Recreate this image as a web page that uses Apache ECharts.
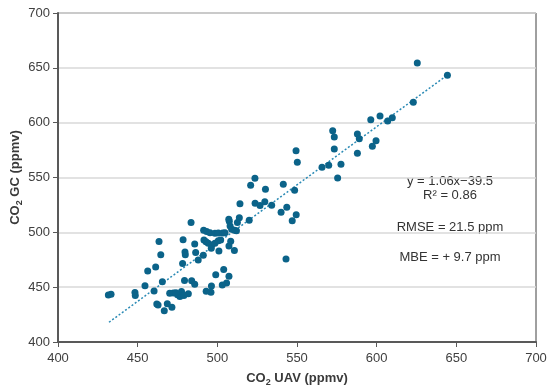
<!DOCTYPE html>
<html>
<head>
<meta charset="utf-8">
<script src="https://cdn.jsdelivr.net/npm/echarts@6/dist/echarts.min.js"></script>
<style>html,body{margin:0;padding:0;background:#fff}#c{width:550px;height:391px}</style>
</head>
<body>
<div id="c"></div>
<script>
// CO2 UAV (x) vs CO2 GC (y), ppmv
var uavValues = [625.5,644.4,623,596.3,602.1,606.9,609.8,572.4,573.4,587.9,589.1,573.4,599.6,597.3,587.9,565.7,569.9,577.6,575.5,549.4,550.2,541.4,548.5,520.9,523.6,530.2,514.2,523.7,526.8,529.8,534.1,540,543.6,547,549.5,543.1,520,513.8,512.6,512,507.5,507.2,508,509,510.8,508.4,507.3,510.7,507.3,504,499,505.8,503.1,496.3,496,493,491.4,493.3,495.4,498.5,500.6,503.4,504.8,491.6,492.9,494.3,496.5,496.2,498.5,500.6,502.1,501,491.2,488,486.4,485.8,483.5,483.9,485.8,478.5,478.2,479.7,479.9,479.4,481.8,472.4,470.1,475,476.5,477.5,479,474,471.5,468.6,466.7,465.5,464.5,463.4,462,462.8,461.3,460.3,456.3,454.6,448.3,448.5,431.6,433.3];
var gcValues = [654.4,643.2,618.6,602.7,606,601.5,604.5,592.7,587,589.7,585.4,576,583.5,578.4,572,559.3,561.1,562,549.5,574.4,563.9,543.8,538.3,543,549.4,539.2,526,526.5,524.5,528,524.8,518.3,522.9,510.5,516,475.7,511,513.3,509,501.5,510,512,505.8,502.8,502,491.8,487.5,483.5,460,466,461.3,453.8,452,451,445.3,446.2,502,500.8,499.7,499.1,499.3,499.3,499.7,493,491.4,490,488.4,485.5,490,492.4,493,483,479,474.8,481.6,489.4,509,455.8,452.6,493.3,471.5,482,479.5,456,444,444.7,444.4,443,441.5,446,442.5,445,431.6,434.9,428.6,455,479.5,491.7,434.6,433.7,468.3,446.5,464.8,451.3,445.2,442.5,442.9,443.5];
var trendX = [432, 644];
var trendY = [418, 643];
var xTicks = [400, 450, 500, 550, 600, 650, 700];
var yTicks = [400, 450, 500, 550, 600, 650, 700];
var statLines = ['y = 1.06x\u221239.5', 'R\u00b2 = 0.86', 'RMSE = 21.5 ppm', 'MBE = + 9.7 ppm'];

var points = uavValues.map(function (x, i) { return [x, gcValues[i]]; });
var trend = trendX.map(function (x, i) { return [x, trendY[i]]; });

var font = 'Liberation Sans, Arial, sans-serif';
var nameRich = {
  a: { fontFamily: font, fontSize: 13, fontWeight: 'bold', color: '#3a3a3a', lineHeight: 18 },
  s: { fontFamily: font, fontSize: 9, fontWeight: 'bold', color: '#3a3a3a', lineHeight: 10, verticalAlign: 'bottom' }
};

function statText(i, y) {
  return { type: 'text', x: 450, y: y, style: { text: statLines[i], font: '13px ' + font, fill: '#333', textAlign: 'center', textVerticalAlign: 'middle' } };
}

var chart = echarts.init(document.getElementById('c'), null, { renderer: 'canvas' });
chart.setOption({
  animation: false,
  backgroundColor: '#fff',
  grid: { left: 58, right: 14, top: 13, bottom: 49, containLabel: false, outerBoundsMode: 'none', show: true, borderColor: '#404040', borderWidth: 1, backgroundColor: 'transparent' },
  xAxis: {
    type: 'value', min: xTicks[0], max: xTicks[xTicks.length - 1], interval: 50,
    name: '{a|CO}{s|2}{a| UAV (ppmv)}', nameLocation: 'middle', nameGap: 27, nameMoveOverlap: false,
    nameTextStyle: { rich: nameRich },
    axisLine: { show: true, lineStyle: { color: '#595959', width: 2 } },
    axisTick: { show: true, length: 5, lineStyle: { color: '#595959', width: 1 } },
    axisLabel: { color: '#404040', fontSize: 13, fontFamily: font, margin: 10 },
    splitLine: { show: false }
  },
  yAxis: {
    type: 'value', min: yTicks[0], max: yTicks[yTicks.length - 1], interval: 50,
    name: '{a|CO}{s|2}{a| GC (ppmv)}', nameLocation: 'middle', nameGap: 34, nameMoveOverlap: false,
    nameTextStyle: { rich: nameRich },
    axisLine: { show: true, lineStyle: { color: '#595959', width: 2 } },
    axisTick: { show: true, length: 5, lineStyle: { color: '#595959', width: 1 } },
    axisLabel: { color: '#404040', fontSize: 13, fontFamily: font, margin: 8 },
    splitLine: { show: true, lineStyle: { color: '#d9d9d9', width: 1.5 } }
  },
  series: [
    {
      type: 'scatter', data: points, symbolSize: 7,
      itemStyle: { color: '#0b6389', opacity: 1 }, z: 3
    },
    {
      type: 'line', data: trend, symbol: 'none', z: 2,
      lineStyle: { color: '#2a8ab5', width: 1.5, type: [2, 2] }
    }
  ],
  graphic: [
    statText(0, 181),
    statText(1, 195),
    statText(2, 227),
    statText(3, 257)
  ]
});
</script>
</body>
</html>
